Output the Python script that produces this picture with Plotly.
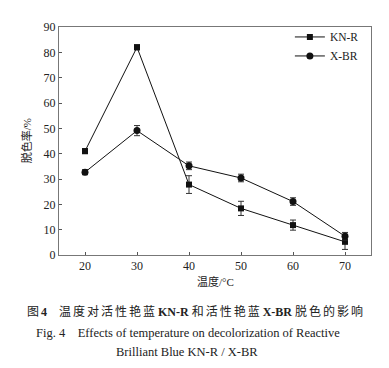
import plotly.graph_objects as go

temps = [20, 30, 40, 50, 60, 70]
knr = [41, 82, 27.8, 18.4, 11.8, 5.2]
knr_err = [1.0, 1.0, 3.5, 2.8, 2.0, 3.0]
xbr = [32.7, 49.1, 35.2, 30.4, 21.1, 7.4]
xbr_err = [1.0, 2.0, 1.5, 1.5, 1.5, 1.5]
x_ticks = [20, 30, 40, 50, 60, 70]
y_ticks = [0, 10, 20, 30, 40, 50, 60, 70, 80, 90]

SERIF = "Liberation Serif, Times New Roman, Noto Sans CJK SC, serif"
CJK = "Liberation Serif, Noto Sans CJK SC, serif"

fig = go.Figure()
fig.add_trace(go.Scatter(
    x=temps, y=knr, name="KN-R", mode="lines+markers",
    line=dict(color="#111", width=1),
    marker=dict(symbol="square", size=6, color="#111"),
    error_y=dict(type="data", array=knr_err, color="#333", thickness=1, width=3),
))
fig.add_trace(go.Scatter(
    x=temps, y=xbr, name="X-BR", mode="lines+markers",
    line=dict(color="#111", width=1),
    marker=dict(symbol="circle", size=7, color="#111"),
    error_y=dict(type="data", array=xbr_err, color="#333", thickness=1, width=3),
))

axis_common = dict(
    showline=True, linecolor="#777", linewidth=1, mirror=True,
    ticks="inside", ticklen=3, tickcolor="#555",
    showgrid=False, zeroline=False,
    tickfont=dict(family=SERIF, size=12, color="#222"),
)
fig.update_xaxes(range=[15, 75], tickvals=x_ticks, **axis_common)
fig.update_yaxes(range=[0, 90], tickvals=y_ticks, **axis_common)

sp = "\u2006"
cn1 = sp.join("温度对活性艳蓝")
cn2 = sp.join("和活性艳蓝")
cn3 = sp.join("脱色的影响")
cap1 = f"图{sp}<b>4</b>{sp*3}  {cn1} <b>KN-R</b> {cn2} <b>X-BR</b> {cn3}"

fig.update_layout(
    width=381, height=360,
    margin=dict(l=51, r=18, t=15, b=113),
    plot_bgcolor="white", paper_bgcolor="white",
    showlegend=True,
    legend=dict(x=0.74, y=1.02, xanchor="left", yanchor="top",
                bgcolor="rgba(0,0,0,0)", font=dict(family=SERIF, size=11.5, color="#222"),
                itemwidth=30, tracegroupgap=0),
    annotations=[
        dict(text="温度/°C", x=0.5, y=-0.116, xref="paper", yref="paper",
             showarrow=False, font=dict(family=CJK, size=11, color="#222"), yanchor="middle"),
        dict(text="脱色率/%", x=-0.105, y=0.5, xref="paper", yref="paper", textangle=-90,
             showarrow=False, font=dict(family=CJK, size=11, color="#222"), xanchor="center"),
        dict(text=cap1,
             x=0.436, y=-0.2457, xref="paper", yref="paper", showarrow=False,
             font=dict(family=CJK, size=12, color="#222"), yanchor="middle"),
        dict(text="Fig. 4    Effects of temperature on decolorization of Reactive",
             x=0.415, y=-0.3405, xref="paper", yref="paper", showarrow=False,
             font=dict(family=SERIF, size=12.5, color="#222"), yanchor="middle"),
        dict(text="Brilliant Blue KN-R / X-BR",
             x=0.409, y=-0.4267, xref="paper", yref="paper", showarrow=False,
             font=dict(family=SERIF, size=12.5, color="#222"), yanchor="middle"),
    ],
)

fig.write_html("out.html")
